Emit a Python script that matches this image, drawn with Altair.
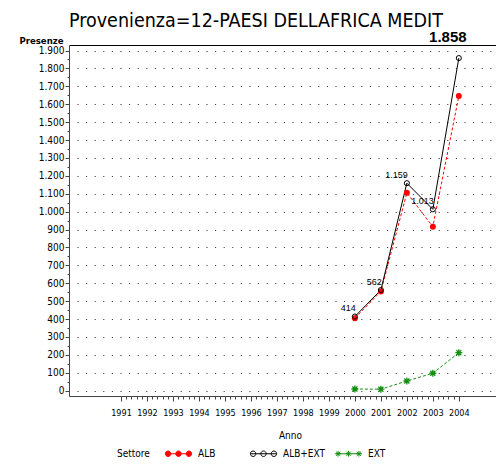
import altair as alt
import pandas as pd

# ---- data ----
years = [2000, 2001, 2002, 2003, 2004]
alb = [405, 554, 1105, 916, 1646]
alb_ext = [414, 562, 1159, 1013, 1858]
ext = [9, 8, 54, 97, 212]
series = ["ALB", "ALB+EXT", "EXT"]
x_tick_years = list(range(1991, 2005))
y_tick_values = list(range(0, 2000, 100))

rows = []
for name, vals in zip(series, [alb, alb_ext, ext]):
    for yr, v in zip(years, vals):
        rows.append({"Anno": yr, "Settore": name, "Presenze": v})
df = pd.DataFrame(rows)

COND = "DejaVu Sans Condensed, Liberation Sans Narrow, sans-serif"
PLAIN = "Liberation Sans, Arial, sans-serif"

XDOM = [1989, 2005.43]
YDOM = [-30, 1931]

xs = alt.Scale(domain=XDOM, nice=False, zero=False)
ys = alt.Scale(domain=YDOM, nice=False, zero=False)

# ---- symbol paths ----
def circ(cx, r):
    return f"M{cx - r},0A{r},{r} 0 1,0 {cx + r},0A{r},{r} 0 1,0 {cx - r},0Z"

def star(cx, a):
    d = a * 0.72
    return (f"M{cx - a},0H{cx + a}M{cx},{-a}V{a}"
            f"M{cx - d},{-d}L{cx + d},{d}M{cx - d},{d}L{cx + d},{-d}")

leg_alb = "M-1,0H1" + "".join(circ(c, 0.21) for c in (-0.8, 0, 0.8))
leg_tot = "M-1,0H1" + "".join(circ(c, 0.21) for c in (-0.8, 0, 0.8))
leg_ext = "M-1,0H1" + "".join(star(c, 0.22) for c in (-0.8, 0, 0.8))
asterisk = star(0, 1)

minor_x = [round(1991 + k * 0.2, 1) for k in range(1, 65) if k % 5 != 0]
minor_y = list(range(50, 1900, 100))

base = alt.Chart(df)

def X(axis):
    return alt.X("Anno:Q", scale=xs, axis=axis)

def Y(axis):
    return alt.Y("Presenze:Q", scale=ys, axis=axis)

main_x = alt.Axis(orient="bottom", values=x_tick_years, format="d", tickSize=5,
                  labelPadding=7, labelFont=COND, labelFontSize=9, labelColor="black",
                  tickColor="#444", domainColor="#444", grid=False, labelFlush=False,
                  labelOverlap=False, title="Anno", titleFont=COND, titleFontSize=10,
                  titleFontWeight="normal", titleColor="black", titleX=221, titleY=39,
                  titleBaseline="middle")
main_y = alt.Axis(orient="left", values=y_tick_values,
                  labelExpr="replace(format(datum.value, ','), ',', '.')",
                  tickSize=4, labelPadding=1, labelFont=COND, labelFontSize=10,
                  labelColor="black", tickColor="#444", domainColor="#444",
                  grid=True, gridDash=[1, 7.6], gridDashOffset=0.6, gridColor="black",
                  gridOpacity=0.85, labelOverlap=False,
                  title="Presenze", titleAngle=0, titleX=-6, titleY=-1.5,
                  titleAlign="right", titleBaseline="alphabetic", titleFont=COND,
                  titleFontSize=9.5, titleFontWeight="bold", titleColor="black")
minor_x_axis = alt.Axis(orient="bottom", values=minor_x, tickSize=3, labels=False,
                        domain=False, grid=False, title=None, tickColor="#444")
minor_y_axis = alt.Axis(orient="left", values=minor_y, tickSize=2, labels=False,
                        domain=False, grid=False, title=None, tickColor="#444")
top_axis = alt.Axis(orient="top", ticks=False, labels=False, domain=True,
                    domainColor="black", grid=False, title=None)

alb_line = base.transform_filter("datum.Settore == 'ALB'").mark_line(
    color="red", strokeDash=[3, 2], strokeWidth=1).encode(x=X(main_x), y=Y(main_y))
tot_line = base.transform_filter("datum.Settore == 'ALB+EXT'").mark_line(
    color="black", strokeWidth=1).encode(x=X(top_axis), y=Y(minor_y_axis))
ext_line = base.transform_filter("datum.Settore == 'EXT'").mark_line(
    color="#119011", strokeDash=[3, 2], strokeWidth=1).encode(x=X(minor_x_axis), y=Y(None))

alb_pts = base.transform_filter("datum.Settore == 'ALB'").mark_point(
    filled=True, color="red", size=36, opacity=1, shape="circle").encode(x=X(None), y=Y(None))
tot_pts = base.transform_filter("datum.Settore == 'ALB+EXT'").mark_point(
    filled=False, color="black", size=26, opacity=1, strokeWidth=1, shape="circle").encode(
    x=X(None), y=Y(None))
ext_pts = base.transform_filter("datum.Settore == 'EXT'").mark_point(
    filled=False, color="#119011", size=49, opacity=1, strokeWidth=1.3, shape=asterisk).encode(
    x=X(None), y=Y(None))

fmt = "replace(format(datum.Presenze, ','), ',', '.')"
labels_small = base.transform_filter(
    "datum.Settore == 'ALB+EXT' && datum.Anno < 2004").transform_calculate(
    lab=fmt).mark_text(align="right", baseline="middle", dx=1, dy=-8.5, font=PLAIN,
                       fontSize=9, color="black").encode(x=X(None), y=Y(None), text="lab:N")
labels_big = base.transform_filter(
    "datum.Settore == 'ALB+EXT' && datum.Anno == 2004").transform_calculate(
    lab=fmt).mark_text(align="center", baseline="middle", dx=-11, dy=-21, font=PLAIN,
                       fontSize=15, fontWeight="bold", color="black").encode(
    x=X(None), y=Y(None), text="lab:N")

legend = alt.Legend(orient="none", legendX=48, legendY=395, direction="horizontal",
                    title="Settore", titleOrient="left", titleAnchor="middle",
                    titleBaseline="top", titlePadding=15, titleFont=COND,
                    titleFontSize=10, titleFontWeight="normal", titleColor="black",
                    labelFont=COND, labelFontSize=10, labelColor="black",
                    labelOffset=6, labelBaseline="middle", symbolSize=676,
                    symbolStrokeWidth=1, symbolOpacity=1, columnPadding=7,
                    gridAlign="all", padding=0)
legend_layer = base.mark_point(opacity=0, size=10).encode(
    x=X(None), y=Y(None),
    shape=alt.Shape("Settore:N", scale=alt.Scale(domain=series, range=[leg_alb, leg_tot, leg_ext]),
                    legend=legend),
    fill=alt.Fill("Settore:N", scale=alt.Scale(domain=series, range=["red", "transparent", "#119011"]),
                  legend=legend),
    stroke=alt.Stroke("Settore:N", scale=alt.Scale(domain=series, range=["red", "black", "#119011"]),
                      legend=legend),
)

chart = alt.layer(
    ext_line, alb_line, tot_line, ext_pts, alb_pts, tot_pts, labels_small, labels_big, legend_layer
).resolve_axis(x="independent", y="independent").properties(
    width=427, height=351,
    autosize=alt.AutoSizeParams(type="none"),
    padding={"left": 61, "top": 37, "right": 0, "bottom": 63},
    title=alt.TitleParams("Provenienza=12-PAESI DELLAFRICA MEDIT", anchor="start", frame="group",
                          font=COND, fontSize=19.5, fontWeight="normal", color="black",
                          offset=-1.5),
).configure_view(stroke=None).configure(background="white")

chart.save("out.html", embed_options={"renderer": "svg", "actions": False})
